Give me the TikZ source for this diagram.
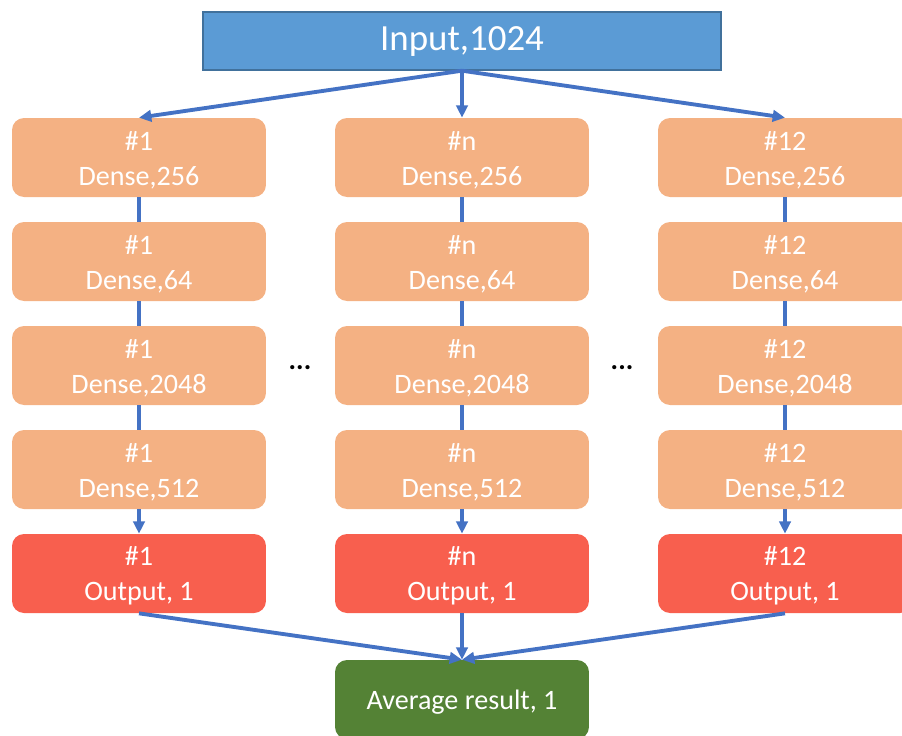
\documentclass[tikz,border=0pt]{standalone}
\usepackage{fontspec}
\setmainfont{Carlito}
\usetikzlibrary{arrows.meta}
\definecolor{inblue}{HTML}{5B9BD5}
\definecolor{inborder}{HTML}{41719C}
\definecolor{denseorange}{HTML}{F4B183}
\definecolor{outred}{HTML}{F85F4E}
\definecolor{avggreen}{HTML}{548235}
\definecolor{linkblue}{HTML}{4472C4}
\tikzset{
    layer/.style={
        rounded corners=0.24cm,
        minimum width=5.08cm,
        minimum height=1.58cm,
        align=center,
        text=white,
        inner sep=0pt,
        font=\fontsize{16}{19.8}\selectfont
    },
    denselayer/.style={layer, fill=denseorange},
    outlayer/.style={layer, fill=outred},
    avglayer/.style={layer, fill=avggreen,
        execute at begin node={\rule{0pt}{13.7pt}}}
}
% two-line label, pushed a little down
\newcommand{\lyrtext}[2]{\rule{0pt}{13.6pt}#1\\#2}

\begin{document}
\begin{tikzpicture}[
    x = 0.02cm,
    y = -0.02cm,
    > = {Triangle[length=7pt, width=6.5pt]},
    link/.style = {draw=linkblue, line width=2.2pt},
    input node/.style = {draw=inborder, fill=inblue, line width=0.8pt,
        minimum width=10.36cm, minimum height=1.16cm, text=white,
        font=\fontsize{21}{25}\selectfont}
]
\clip (0,0) rectangle (902,735);

% Input layer
\node[input node] (in) at (462,41) {Input,1024};

% Column #1
\node[denselayer] (a1) at (139,157.5) {\lyrtext{\#1}{Dense,256}};
\node[denselayer] (a2) at (139,261.5) {\lyrtext{\#1}{Dense,64}};
\node[denselayer] (a3) at (139,365.5) {\lyrtext{\#1}{Dense,2048}};
\node[denselayer] (a4) at (139,469.5) {\lyrtext{\#1}{Dense,512}};
\node[outlayer]   (a5) at (139,573.5) {\lyrtext{\#1}{Output, 1}};

% Column #n
\node[denselayer] (b1) at (462,157.5) {\lyrtext{\#n}{Dense,256}};
\node[denselayer] (b2) at (462,261.5) {\lyrtext{\#n}{Dense,64}};
\node[denselayer] (b3) at (462,365.5) {\lyrtext{\#n}{Dense,2048}};
\node[denselayer] (b4) at (462,469.5) {\lyrtext{\#n}{Dense,512}};
\node[outlayer]   (b5) at (462,573.5) {\lyrtext{\#n}{Output, 1}};

% Column #12
\node[denselayer] (c1) at (785,157.5) {\lyrtext{\#12}{Dense,256}};
\node[denselayer] (c2) at (785,261.5) {\lyrtext{\#12}{Dense,64}};
\node[denselayer] (c3) at (785,365.5) {\lyrtext{\#12}{Dense,2048}};
\node[denselayer] (c4) at (785,469.5) {\lyrtext{\#12}{Dense,512}};
\node[outlayer]   (c5) at (785,573.5) {\lyrtext{\#12}{Output, 1}};

% Dots between columns
\node[font=\fontsize{16}{19.8}\selectfont\bfseries] (dotsl) at (300,368) {...};
\node[font=\fontsize{16}{19.8}\selectfont\bfseries] (dotsr) at (622,368) {...};

% Average
\node[avglayer] (avg) at (462,699.5) {Average result, 1};

% From input to the first dense layers
\draw[link,->] (in.south) -- (a1.north);
\draw[link,->] (in.south) -- (b1.north);
\draw[link,->] (in.south) -- (c1.north);

% Inside each column
\draw[link] (a1) -- (a2) (a2) -- (a3) (a3) -- (a4);
\draw[link] (b1) -- (b2) (b2) -- (b3) (b3) -- (b4);
\draw[link] (c1) -- (c2) (c2) -- (c3) (c3) -- (c4);
\draw[link,->] (a4) -- (a5);
\draw[link,->] (b4) -- (b5);
\draw[link,->] (c4) -- (c5);

% From the outputs to the average
\draw[link,->] (a5.south) -- (avg.north);
\draw[link,->] (b5.south) -- (avg.north);
\draw[link,->] (c5.south) -- (avg.north);

\end{tikzpicture}
\end{document}
